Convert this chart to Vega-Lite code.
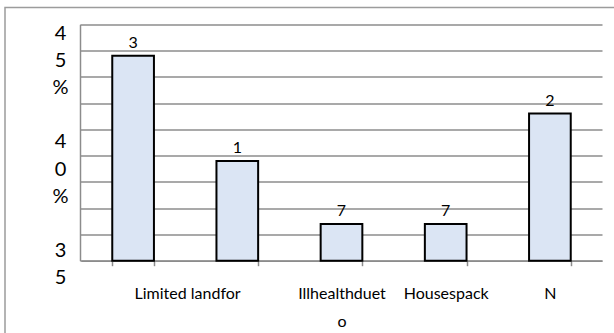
{
  "$schema": "https://vega.github.io/schema/vega-lite/v6.json",
  "autosize": {"type": "none"},
  "width": 612,
  "height": 328,
  "padding": {"left": 5, "top": 7.5, "right": -3, "bottom": -2.5},
  "background": "white",
  "config": {
    "view": {"stroke": "#9c9c9c", "strokeWidth": 1.5},
    "font": "Lato"
  },
  "data": {
    "values": [
      {"cause": "Limited landfor", "share": 39, "label": "3"},
      {"cause": "", "share": 19, "label": "1"},
      {"cause": "Illhealthduet o", "share": 7, "label": "7"},
      {"cause": "Housespack", "share": 7, "label": "7"},
      {"cause": "N", "share": 28, "label": "2"}
    ]
  },
  "encoding": {
    "x": {
      "field": "cause",
      "type": "nominal",
      "sort": null,
      "scale": {"range": [76, 597], "paddingInner": 0.6, "paddingOuter": 0.3},
      "axis": {
        "title": null,
        "orient": "bottom",
        "offset": -74.8,
        "labelAngle": 0,
        "tickBand": "extent",
        "domainColor": "#8c8c8c",
        "domainWidth": 1.5,
        "tickColor": "#8c8c8c",
        "tickWidth": 1.5,
        "tickSize": 5,
        "labelFont": "Lato",
        "labelFontSize": 16,
        "labelColor": "#000000",
        "labelPadding": 20,
        "labelLineHeight": 28,
        "labelOverlap": false,
        "labelExpr": "datum.value == 'Illhealthduet o' ? ['Illhealthduet', 'o'] : datum.value",
        "labelOffset": {"condition": {"test": "datum.value == 'Limited landfor'", "value": 54}, "value": 0}
      }
    },
    "y": {
      "field": "share",
      "type": "quantitative",
      "scale": {"domain": [0, 45], "range": [253.2, 16.8], "nice": false},
      "axis": {
        "orient": "left",
        "offset": -75,
        "values": [0, 5, 10, 15, 20, 25, 30, 35, 40, 45],
        "grid": false,
        "domainColor": "#8c8c8c",
        "domainWidth": 1.5,
        "tickColor": "#8c8c8c",
        "tickWidth": 1.5,
        "tickSize": -522,
        "labels": false,
        "title": ["4", "5", "%", "\u2800", "4", "0", "%", "\u2800", "3", "5"],
        "titleAngle": 0,
        "titleAlign": "center",
        "titleBaseline": "middle",
        "titleX": -20,
        "titleY": 25.5,
        "titleLineHeight": 27.2,
        "titleFont": "Lato",
        "titleFontSize": 20,
        "titleFontWeight": "normal",
        "titleColor": "#000000"
      }
    }
  },
  "layer": [
    {
      "mark": {"type": "bar", "fill": "#dbe5f4", "stroke": "#000000", "strokeWidth": 2}
    },
    {
      "mark": {"type": "text", "baseline": "bottom", "dy": -5, "font": "Lato", "fontSize": 16, "color": "#000000"},
      "encoding": {"text": {"field": "label"}}
    }
  ]
}
